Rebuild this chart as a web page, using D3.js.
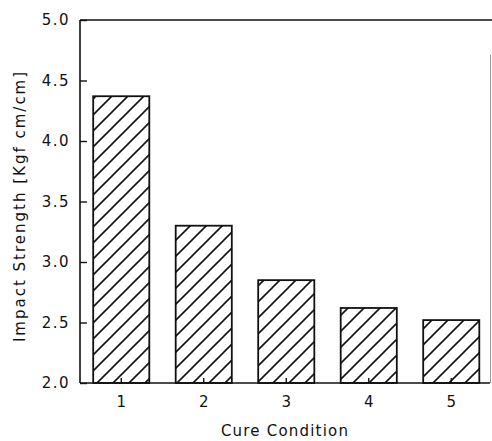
<!DOCTYPE html>
<html>
<head>
<meta charset="utf-8">
<script src="https://cdn.jsdelivr.net/npm/d3@7"></script>
<style>
  body { margin: 0; background: #fff; }
  text { font-family: "DejaVu Sans", sans-serif; fill: #111; }
</style>
</head>
<body>
<svg id="chart" width="492" height="441"></svg>
<script>
// data
var conditions = ["1", "2", "3", "4", "5"];
var strength = [4.37, 3.30, 2.85, 2.62, 2.52];
var yTicks = [2.0, 2.5, 3.0, 3.5, 4.0, 4.5, 5.0];

var svg = d3.select("#chart");
var plotL = 80, plotR = 492.5, plotT = 20, plotB = 383;

var x = d3.scaleBand().domain(conditions).range([plotL, plotR])
    .paddingInner(0.32).paddingOuter(0.16);
var y = d3.scaleLinear().domain([2, 5]).range([plotB, plotT]);

// hatch pattern
var pat = svg.append("defs").append("pattern")
    .attr("id", "hatch")
    .attr("patternUnits", "userSpaceOnUse")
    .attr("width", 16).attr("height", 16);
pat.append("path")
    .attr("d", "M-4,4 L4,-4 M0,16 L16,0 M12,20 L20,12")
    .attr("stroke", "#111").attr("stroke-width", 1.6);

var bars = conditions.map((c, i) => ({c: c, v: strength[i]}));

svg.selectAll("rect.bar").data(bars).enter().append("rect")
    .attr("class", "bar")
    .attr("x", d => x(d.c))
    .attr("y", d => y(d.v))
    .attr("width", x.bandwidth())
    .attr("height", d => y(2) - y(d.v))
    .attr("fill", "url(#hatch)")
    .attr("stroke", "#111")
    .attr("stroke-width", 1.8);

// frame
svg.append("line").attr("x1", plotL).attr("x2", plotL).attr("y1", plotT).attr("y2", plotB)
    .attr("stroke", "#111").attr("stroke-width", 1.6);
svg.append("line").attr("x1", plotL).attr("x2", 490).attr("y1", plotB).attr("y2", plotB)
    .attr("stroke", "#111").attr("stroke-width", 1.6);
svg.append("line").attr("x1", plotL).attr("x2", 492).attr("y1", plotT).attr("y2", plotT)
    .attr("stroke", "#111").attr("stroke-width", 1.4);
svg.append("line").attr("x1", 490.5).attr("x2", 490.5).attr("y1", 55).attr("y2", plotB)
    .attr("stroke", "#999").attr("stroke-width", 1);

// axes
var yAxis = svg.append("g").attr("transform", "translate(" + plotL + ",0)")
    .call(d3.axisLeft(y).tickValues(yTicks).tickFormat(d3.format(".1f"))
        .tickSizeInner(-7).tickSizeOuter(0).tickPadding(10));
var xAxis = svg.append("g").attr("transform", "translate(0," + plotB + ")")
    .call(d3.axisBottom(x).tickSizeInner(-5).tickSizeOuter(0).tickPadding(13));

[yAxis, xAxis].forEach(g => {
  g.select(".domain").remove();
  g.selectAll(".tick line").attr("stroke", "#111").attr("stroke-width", 1.4);
  g.selectAll(".tick text").attr("font-size", 15).attr("fill", "#111")
    .style("font-family", "DejaVu Sans, sans-serif");
});
yAxis.selectAll(".tick text").style("letter-spacing", "1.5px");

// axis titles
svg.append("text")
    .attr("x", (plotL + 490) / 2).attr("y", 436)
    .attr("text-anchor", "middle")
    .attr("font-size", 15)
    .style("letter-spacing", "1.2px")
    .text("Cure Condition");

svg.append("text")
    .attr("transform", "translate(25,206) rotate(-90)")
    .attr("text-anchor", "middle")
    .attr("font-size", 15)
    .style("letter-spacing", "2px")
    .text("Impact Strength [Kgf cm/cm]");
</script>
</body>
</html>
